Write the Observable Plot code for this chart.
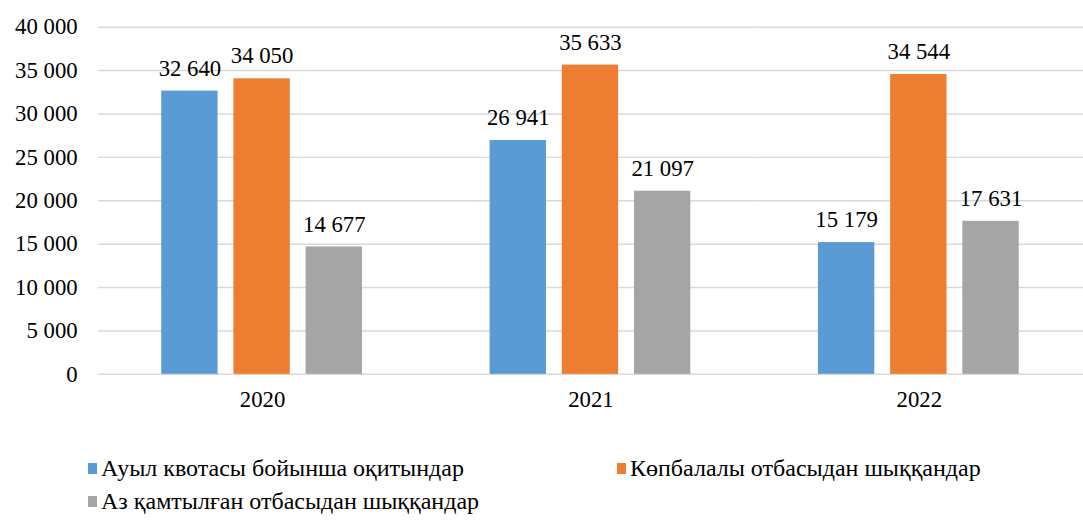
<!DOCTYPE html>
<html><head><meta charset="utf-8">
<script src="https://cdn.jsdelivr.net/npm/d3@7"></script>
<script src="https://cdn.jsdelivr.net/npm/@observablehq/plot@0.6"></script>
<style>
html{overflow:hidden;}
body{margin:0;padding:0;background:#fff;overflow:hidden;font-family:'Times New Roman','Liberation Serif',Tinos,serif;}
svg{display:block;}
svg text{font-family:'Times New Roman','Liberation Serif',Tinos,serif !important;}
.leg{margin-top:27px;padding-left:88px;display:grid;grid-template-columns:529px auto;grid-auto-rows:33px;font-size:24px;color:#000;}
.item{display:flex;align-items:center;white-space:nowrap;}
.item span{font-family:'Times New Roman','Liberation Serif',Tinos,serif !important;}
.sw{width:9px;height:11px;margin-right:4px;display:inline-block;}
</style></head>
<body>
<script>
const years = ["2020", "2021", "2022"];
const seriesNames = ["Ауыл квотасы бойынша оқитындар", "Көпбалалы отбасыдан шыққандар", "Аз қамтылған отбасыдан шыққандар"];
const seriesColors = ["#5B9BD5", "#ED7D31", "#A5A5A5"];
const ruralQuota = [32640, 26941, 15179];
const largeFamilies = [34050, 35633, 34544];
const lowIncome = [14677, 21097, 17631];
const yTicks = [0, 5000, 10000, 15000, 20000, 25000, 30000, 35000, 40000];

const seriesValues = [ruralQuota, largeFamilies, lowIncome];
const data = [];
years.forEach((yr, i) => seriesNames.forEach((s, j) => data.push({year: yr, series: s, value: seriesValues[j][i]})));

const fmt = d3.formatLocale({decimal: ",", thousands: " ", grouping: [3], currency: ["", ""]}).format(",d");
const FONT = "'Times New Roman', 'Liberation Serif', Tinos, serif";

const plot = Plot.plot({
  width: 1095, height: 430,
  marginLeft: 98, marginRight: 0, marginTop: 27, marginBottom: 52,
  style: {fontFamily: FONT, fontSize: "23px", color: "#000", background: "#fff"},
  fx: {domain: years, padding: 0, label: null, axis: null},
  x: {domain: seriesNames, paddingInner: 0.218, paddingOuter: 0.867, axis: null},
  y: {domain: [0, 40000], axis: null},
  color: {domain: seriesNames, range: seriesColors},
  marks: [
    Plot.gridY(yTicks, {stroke: "#d9d9d9", strokeOpacity: 1, strokeWidth: 1.5}),
    Plot.axisY(yTicks, {tickSize: 0, tickPadding: 21, tickFormat: fmt, label: null, fontSize: 23, fontFamily: FONT, fill: "#000"}),
    Plot.axisFx({anchor: "bottom", tickSize: 0, tickPadding: 17, label: null, fontSize: 23, fontFamily: FONT, fill: "#000"}),
    Plot.barY(data, {fx: "year", x: "series", y: "value", fill: "series"}),
    Plot.text(data, {fx: "year", x: "series", y: "value", text: d => fmt(d.value), dy: -23, fontSize: 23, fontFamily: FONT, fill: "#000"})
  ]
});
document.body.appendChild(plot);

const legend = document.createElement("div");
legend.className = "leg";
seriesNames.forEach((s, j) => {
  const item = document.createElement("div");
  item.className = "item";
  const sw = document.createElement("span");
  sw.className = "sw";
  sw.style.background = seriesColors[j];
  item.appendChild(sw);
  const t = document.createElement("span");
  t.textContent = s;
  item.appendChild(t);
  legend.appendChild(item);
});
document.body.appendChild(legend);
</script>
</body></html>
